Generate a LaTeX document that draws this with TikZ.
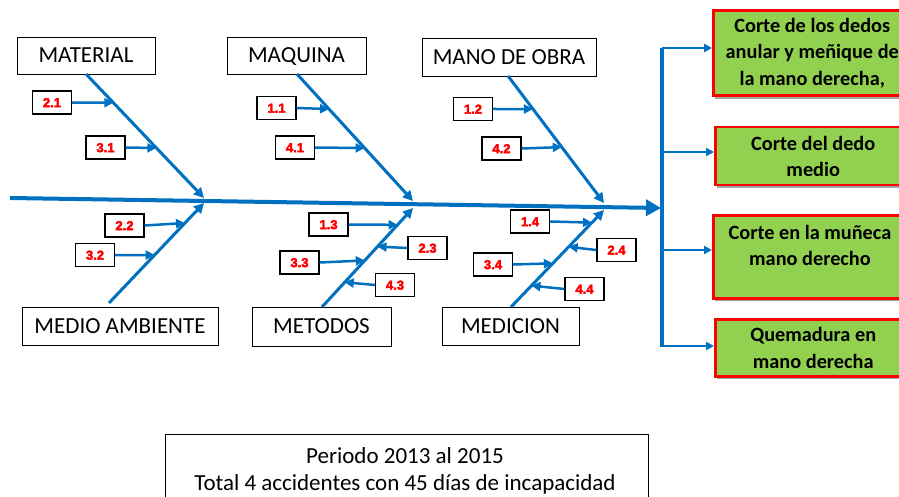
\documentclass[tikz,border=0pt]{standalone}
\usepackage{fontspec}
\setmainfont{Carlito}
\newfontfamily\labfont[FakeBold=3]{Liberation Sans Bold}
\usetikzlibrary{arrows.meta,calc}
\definecolor{fbblue}{HTML}{0070C0}
\definecolor{fbgreen}{HTML}{92D050}
\definecolor{fbred}{HTML}{FF0000}
\begin{document}
\begin{tikzpicture}[x=1pt,y=-1pt,
  catbox/.style={draw=black,line width=0.9pt,fill=white,inner sep=0pt,text height=14.8pt,text depth=0pt,font=\fontsize{23}{27}\selectfont},
  labbox/.style={draw=black,line width=1.3pt,fill=white,minimum width=39pt,minimum height=23pt,inner sep=0pt,text height=9.3pt,text depth=0pt,font=\labfont\fontsize{13}{14}\selectfont,text=fbred},
  effbox/.style={draw=fbred,line width=2.5pt,fill=fbgreen,inner sep=0pt,align=center,font=\bfseries\fontsize{20.3}{26.5}\selectfont},
  spine/.style={draw=fbblue,line width=4pt,-{Triangle[length=15pt,width=16pt]}},
  bone/.style={draw=fbblue,line width=3pt,-{Triangle[length=10pt,width=10pt]}},
  sub/.style={draw=fbblue,line width=2.5pt,-{Triangle[length=9pt,width=9pt]}},
  brk/.style={draw=fbblue,line width=2pt,-{Triangle[length=8pt,width=8pt]}},
  ]
\useasboundingbox (0,0) rectangle (899,497);
\fill[white] (0,0) rectangle (899,497);

% spine
\coordinate (s0) at (10,198);
\coordinate (head) at (661,208);
\draw[spine] (s0) -- (head);

% category boxes
\node[catbox,minimum width=138pt,minimum height=37pt] (mat) at (86,55.5) {MATERIAL};
\node[catbox,minimum width=139pt,minimum height=37pt] (maq) at (296.5,55.5) {MAQUINA};
\node[catbox,minimum width=174pt,minimum height=38pt] (mo) at (509,57) {MANO DE OBRA};
\node[catbox,minimum width=196pt,minimum height=38pt] (ma) at (120,326) {MEDIO AMBIENTE};
\node[catbox,minimum width=139pt,minimum height=39pt] (met) at (321.5,326.5) {METODOS};
\node[catbox,minimum width=137pt,minimum height=38pt] (med) at (510.5,326) {MEDICION};

% bone end points
\coordinate (matT) at (86,74);
\coordinate (matE) at (204,198);
\coordinate (maT) at (109,303);
\coordinate (maE) at (204,203);
\coordinate (maqT) at (297,74);
\coordinate (maqE) at (413,201);
\coordinate (metT) at (322,307);
\coordinate (metE) at (413,208);
\coordinate (moT) at (508,76);
\coordinate (moE) at (604,203);
\coordinate (medT) at (511,307);
\coordinate (medE) at (604,210);

\draw[bone] (matT) -- (matE);
\draw[bone] (maT) -- (maE);
\draw[bone] (maqT) -- (maqE);
\draw[bone] (metT) -- (metE);
\draw[bone] (moT) -- (moE);
\draw[bone] (medT) -- (medE);

% label boxes
\node[labbox] (l21) at (52,102.5) {2.1};
\node[labbox] (l31) at (105.5,147.5) {3.1};
\node[labbox] (l22) at (124.5,225.5) {2.2};
\node[labbox] (l32) at (95,255) {3.2};
\node[labbox] (l11) at (276.5,108) {1.1};
\node[labbox] (l41) at (295,147.5) {4.1};
\node[labbox] (l13) at (328.5,224.5) {1.3};
\node[labbox] (l23) at (427.5,248) {2.3};
\node[labbox] (l33) at (299.5,262.5) {3.3};
\node[labbox] (l43) at (395,285) {4.3};
\node[labbox] (l12) at (473,109) {1.2};
\node[labbox] (l42) at (501.5,148.5) {4.2};
\node[labbox] (l14) at (530,221.5) {1.4};
\node[labbox] (l24) at (616.5,250) {2.4};
\node[labbox] (l34) at (493,264.5) {3.4};
\node[labbox] (l44) at (584.5,289) {4.4};

% arrow tips on bones (point at given fraction along each bone)
\coordinate (t21) at ($(matT)!0.232!(matE)$);
\coordinate (t31) at ($(matT)!0.597!(matE)$);
\coordinate (t22) at ($(maE)!0.20!(maT)$);
\coordinate (t32) at ($(maE)!0.52!(maT)$);
\coordinate (t11) at ($(maqT)!0.276!(maqE)$);
\coordinate (t41) at ($(maqT)!0.583!(maqE)$);
\coordinate (t13) at ($(metE)!0.17!(metT)$);
\coordinate (t23) at ($(metE)!0.39!(metT)$);
\coordinate (t33) at ($(metE)!0.53!(metT)$);
\coordinate (t43) at ($(metE)!0.75!(metT)$);
\coordinate (t12) at ($(moT)!0.26!(moE)$);
\coordinate (t42) at ($(moT)!0.56!(moE)$);
\coordinate (t14) at ($(medE)!0.13!(medT)$);
\coordinate (t24) at ($(medE)!0.38!(medT)$);
\coordinate (t34) at ($(medE)!0.55!(medT)$);
\coordinate (t44) at ($(medE)!0.78!(medT)$);

\foreach \n in {21,31,22,32,11,41,13,33,12,42,14,34} {
  \draw[sub] (l\n.east) -- (t\n);
}
\foreach \n in {23,43,24,44} {
  \draw[sub] (l\n.west) -- (t\n);
}

% bracket
\coordinate (bT) at (662,48);
\coordinate (bB) at (662,347);
\draw[draw=fbblue,line width=4pt] (bT) -- (bB);

% effect boxes with shadows
\fill[black!35] (715,13) rectangle (912,99);
\fill[black!35] (717,129) rectangle (912,188);
\fill[black!35] (715,217) rectangle (912,301);
\fill[black!35] (717,321) rectangle (912,379);
\node[effbox,minimum width=198pt,minimum height=85pt,anchor=north west] (e1) at (712,9.5) {Corte de los dedos\\anular y meñique de\\la mano derecha,};
\node[effbox,minimum width=196pt,minimum height=58pt,anchor=north west] (e2) at (714,126) {Corte del dedo\\medio};
\node[effbox,minimum width=198pt,minimum height=83pt,anchor=north west] (e3) at (712,214) {};
\node[anchor=north,font=\bfseries\fontsize{20.3}{26.5}\selectfont,align=center,inner sep=0pt] (e3t) at (810,225) {Corte en la muñeca\\mano derecho};
\node[effbox,minimum width=196pt,minimum height=57pt,anchor=north west] (e4) at (714,318) {Quemadura en\\mano derecha};

\coordinate (k1) at (662,48);
\coordinate (k2) at (662,152);
\coordinate (k3) at (662,250);
\coordinate (k4) at (662,346);
\draw[brk] (k1) -- (k1 -| e1.west);
\draw[brk] (k2) -- (k2 -| e2.west);
\draw[brk] (k3) -- (k3 -| e3.west);
\draw[brk] (k4) -- (k4 -| e4.west);

% summary box
\node[draw=black,line width=1pt,fill=white,minimum width=483pt,minimum height=80pt,anchor=north west,inner sep=0pt] (sum) at (164.5,434) {};
\node[align=center,anchor=north,inner sep=0pt,font=\fontsize{23}{27}\selectfont] (sumt) at (405,447) {Periodo 2013 al 2015\\Total 4 accidentes con 45 días de incapacidad};
\end{tikzpicture}
\end{document}
